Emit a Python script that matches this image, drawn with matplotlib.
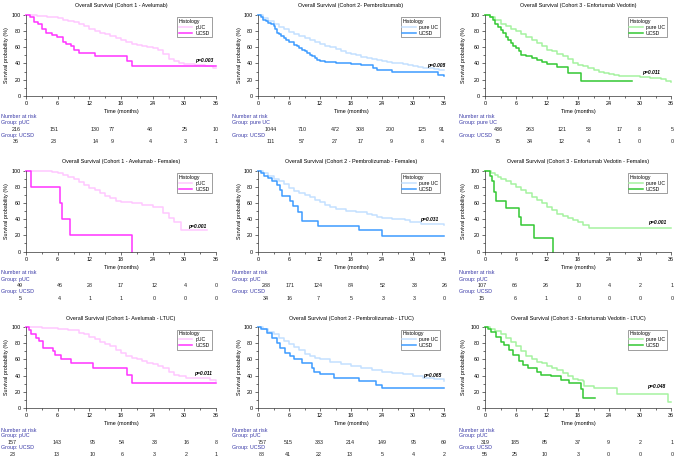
import numpy as np
import matplotlib.pyplot as plt
from matplotlib.transforms import blended_transform_factory
from matplotlib.ticker import MultipleLocator

plt.rcParams['font.family'] = ['Liberation Sans', 'DejaVu Sans']

# ---- Cohort 1 - Avelumab (all) ----
c1_puc_t = [0, 2, 4, 6, 7, 8, 9, 10, 11, 12, 13, 14, 15, 16, 17, 18, 19, 20, 21, 22, 23, 24, 25, 26, 27, 28, 29, 30, 32, 34, 35.4, 36]
c1_puc_s = [100, 99, 97.5, 95.5, 94, 92.5, 90.5, 88.5, 86, 83, 80.5, 78, 76, 73.5, 71, 68.5, 66.5, 64.5, 63, 61.5, 60, 58.5, 56, 52, 46, 43, 41, 39, 38, 37, 34, 34]
c1_ucsd_t = [0, 0.8, 1.5, 2.3, 3.0, 3.7, 5.0, 5.8, 7.0, 7.6, 8.6, 9.0, 10.0, 13.1, 19.2, 20.1, 36]
c1_ucsd_s = [100, 97, 91.5, 88.5, 83, 78, 75, 72, 67, 64.5, 61, 56, 53, 49.5, 43, 37.5, 37.5]

# ---- Cohort 2 - Pembrolizumab (all) ----
c2_puc_t = list(range(0, 37))
c2_puc_s = [100, 96, 92, 88, 85, 82, 79, 76.5, 74, 71.5, 69, 66.5, 64, 62, 60, 58, 55.5, 53, 51.5, 50, 48.5, 47, 45.5, 44, 43, 42, 41, 40, 39, 38, 37, 36, 35, 34, 33, 32.5, 32]
c2_ucsd_t = [0, 0.5, 1, 1.5, 2, 2.5, 3, 3.3, 3.7, 4, 4.5, 5, 5.5, 6, 6.5, 7, 7.5, 8, 8.5, 9, 9.5, 10, 10.5, 11, 11.5, 12, 13, 15, 18, 20, 22.3, 23, 26, 34.9, 36]
c2_ucsd_s = [100, 97, 94, 92, 90, 88, 86, 82, 78, 76, 74, 71, 69, 67, 66, 63, 61, 59, 57, 55, 53, 51, 49, 47, 44, 43, 42, 40, 39, 38, 35, 32, 30, 26, 25]

# ---- Cohort 3 - Enfortumab Vedotin (all) ----
c3_puc_t = [0, 1, 2, 3, 4, 5, 6, 7, 8, 9, 10, 11, 12, 13, 14, 15, 16, 17, 18, 19, 20, 21, 22, 23, 24, 25, 26, 28, 30, 32, 34, 35, 36]
c3_puc_s = [100, 97, 93, 89, 86, 83, 80, 76, 73, 69, 65, 61, 57, 55, 52, 49, 45, 41, 38, 37, 35, 32, 30, 28, 27, 26, 25, 24, 23, 22, 21, 19, 17]
c3_ucsd_t = [0, 1, 1.5, 2, 2.5, 3, 3.5, 4, 4.5, 5, 5.5, 6, 6.5, 7, 8, 9, 10, 11, 12, 14, 16, 18.5, 28.5]
c3_ucsd_s = [100, 97, 93, 89, 85, 81, 77, 73, 69, 65, 61, 59, 55, 51, 49, 47, 44, 42, 39, 36, 28, 18.5, 18.5]

# ---- Females ----
f1_puc_t = [0, 5, 6, 7, 8, 9, 10, 11, 12, 13, 14, 15, 16, 17, 18, 20, 22, 24, 26, 27, 28, 29.4, 34.3]
f1_puc_s = [100, 98.5, 97, 95, 92.5, 90, 86, 82, 79, 76, 72, 69, 66, 63, 61, 60, 57, 55, 48, 42, 36, 27, 27]
f1_ucsd_t = [0, 1.0, 6.4, 6.8, 8.3, 20.1]
f1_ucsd_s = [100, 80, 60, 40, 20, 0]

f2_puc_t = [0, 1, 2, 3, 4, 5, 6, 7, 8, 9, 10, 11, 12, 13, 14, 15, 17, 19, 21, 22, 23, 24, 26, 28.5, 29.5, 31.5, 36]
f2_puc_s = [100, 97, 94, 90, 87, 83, 78, 75, 72, 70, 67, 64, 61, 58, 55, 52, 50, 49, 47, 45, 43, 41, 40, 39, 36, 34, 32.5]
f2_ucsd_t = [0, 0.5, 1.2, 2, 2.8, 3.7, 4.2, 4.6, 6.2, 6.8, 7.8, 8.5, 11.7, 19.6, 24, 36]
f2_ucsd_s = [100, 97, 94, 91, 87, 82, 76, 69, 62, 56, 49, 38, 32, 26, 19.5, 19.5]

f3_puc_t = [0, 1.1, 2, 2.5, 3, 4, 5, 6, 7, 8, 9, 10, 11, 12, 13, 14, 15, 16, 17, 18, 19, 20.2, 36]
f3_puc_s = [100, 97, 95, 92, 90, 87, 84, 80, 76, 72, 68, 64, 60, 55, 51, 47, 44, 41, 39, 37, 33, 28.5, 28.5]
f3_ucsd_t = [0, 1.0, 1.3, 1.7, 2.2, 4.1, 6.6, 6.9, 9.5, 13.1]
f3_ucsd_s = [100, 93.3, 86.7, 73.3, 62.5, 53.3, 43, 33, 16.5, 0]

# ---- LTUC ----
l1_puc_t = [0, 3, 6, 8, 10, 11, 12, 13, 14, 15, 16, 17, 18, 19, 20, 21, 22, 23, 24, 25, 26, 27, 28, 29, 30.4, 34.8, 36]
l1_puc_s = [100, 99, 97.5, 96, 93, 91, 88, 85, 82, 79, 76, 72, 68, 64, 62, 60, 58, 56, 54, 52, 49, 44, 41, 39, 37, 35, 33]
l1_ucsd_t = [0, 0.5, 1.0, 1.8, 2.4, 3.2, 5.1, 5.5, 6.7, 8.6, 12.6, 19.1, 20.1, 36]
l1_ucsd_s = [100, 96, 91.5, 87, 83, 74, 70, 65, 60.5, 55, 49, 40.7, 30.5, 30.5]

l2_puc_t = [0, 1, 2, 3, 4, 5, 6, 7, 8, 9, 10, 11, 12, 14, 16, 18, 20, 22, 24, 26, 28, 30, 32, 34, 36]
l2_puc_s = [100, 97, 94, 91, 87, 83, 79, 75, 71, 67, 64, 62, 60, 57, 54, 51.5, 49, 47, 45, 43.5, 42, 40, 37.5, 35.5, 33.5]
l2_ucsd_t = [0, 0.5, 1.8, 2.7, 3.7, 4.3, 5.2, 6.2, 7, 8.5, 10.5, 10.8, 12, 14.8, 19.6, 22.8, 24, 36]
l2_ucsd_s = [100, 98, 92, 86, 80, 74, 68, 64, 60, 55, 49, 45, 42, 37, 33, 29, 25, 25]

l3_puc_t = [0, 1, 2, 3, 4, 5, 6, 7, 8, 9, 10, 11, 12, 13, 14, 15, 16, 17, 18, 19, 19.2, 21, 25.5, 35.4, 36]
l3_puc_s = [100, 98, 95, 91, 87, 82, 76, 70, 64, 60, 57, 55, 52, 50, 47, 43, 39, 36, 34, 33, 27, 25, 17, 8, 8]
l3_ucsd_t = [0, 0.6, 1.2, 2.2, 3.1, 3.7, 4.7, 5.5, 6.5, 7.4, 8.4, 10, 10.9, 12.8, 14.7, 16.3, 18.5, 18.9, 21.2]
l3_ucsd_s = [100, 98, 94, 88, 82, 78, 72, 66, 57.5, 53.5, 49, 45, 41, 39, 34.6, 30.4, 24, 12.5, 12.5]

# ---- number at risk ----
risk_times = [0, 6, 12, 18, 24, 30, 36]
c1_risk_puc = [216, 151, 130, 77, 48, 25, 10]
c1_risk_ucsd = [36, 23, 14, 9, 4, 3, 1]
c2_risk_puc = [1044, 710, 472, 308, 200, 125, 91]
c2_risk_ucsd = [111, 57, 27, 17, 9, 8, 4]
c3_risk_puc = [436, 263, 121, 53, 17, 8, 5]
c3_risk_ucsd = [75, 34, 12, 4, 1, 0, 0]
f1_risk_puc = [49, 46, 28, 17, 12, 4, 0]
f1_risk_ucsd = [5, 4, 1, 1, 0, 0, 0]
f2_risk_puc = [288, 171, 124, 84, 52, 33, 26]
f2_risk_ucsd = [34, 16, 7, 5, 3, 3, 0]
f3_risk_puc = [107, 66, 26, 10, 4, 2, 1]
f3_risk_ucsd = [15, 6, 1, 0, 0, 0, 0]
l1_risk_puc = [157, 143, 95, 54, 33, 16, 8]
l1_risk_ucsd = [23, 13, 10, 6, 3, 2, 1]
l2_risk_puc = [757, 515, 333, 214, 149, 95, 69]
l2_risk_ucsd = [88, 41, 22, 13, 5, 4, 2]
l3_risk_puc = [319, 185, 85, 37, 9, 2, 1]
l3_risk_ucsd = [55, 25, 10, 3, 0, 0, 0]

titles = [
    ["Overall Survival (Cohort 1 - Avelumab)", "Overall Survival (Cohort 2- Pembrolizumab)", "Overall Survival (Cohort 3 - Enfortumab Vedotin)"],
    ["Overall Survival (Cohort 1 - Avelumab - Females)", "Overall Survival (Cohort 2 - Pembrolizumab - Females)", "Overall Survival (Cohort 3 - Enfortumab Vedotin - Females)"],
    ["Overall Survival (Cohort 1- Avelumab - LTUC)", "Overall Survival (Cohort 2 - Pembrolizumab - LTUC)", "Overall Survival (Cohort 3 - Enfortumab Vedotin - LTUC)"],
]
pvalues = [["p=0.003", "p=0.008", "p=0.011"],
           ["p=0.001", "p=0.031", "p=0.001"],
           ["p=0.011", "p=0.065", "p=0.048"]]
group_names = [["pUC", "pure UC", "pure UC"],
               ["pUC", "pUC", "pUC"],
               ["pUC", "pUC", "pUC"]]
legend_names = ["pUC", "pure UC", "pure UC"]

# ---- layout (pixels) ----
W, H = 677, 457
col_x = [(26, 216), (258, 444), (485, 671)]          # x of 0 and 36 months
row_y = [(14.7, 96), (170.7, 251.5), (327, 408)]      # y of 100 and 0 %
text_x = [1, 232, 459]
ylab_x = [7, 240, 463]
row_txt = [  # ticklabels, time, number at risk, group1, nums1, group2, nums2, title
    (103, 112, 117, 123, 129.5, 135.5, 141.5, 6),
    (259.5, 267, 273, 279, 285.5, 291.5, 298, 161.5),
    (416.5, 424, 430, 436, 442, 448, 454.3, 318.5),
]
risk_x = [
    [[-1.9, 5.3, 13.1, 16.3, 23.5, 30.1, 36], [2.5, 8.5, 14.9, 19.9, 25.7, 31.7, 35.6], [2.5, 8.7, 14.9, 20.1, 26, 29.8, 36.2]],
    [[-1.1, 6.4, 12.1, 18, 24.3, 30.2, 36], [1.6, 6.2, 11.6, 18, 24.2, 30.3, 36.1], [-0.6, 5.8, 11.8, 18.2, 24, 30.1, 36.2]],
    [[-2.6, 5.8, 12.6, 18.2, 24.4, 30.4, 36], [0.8, 5.8, 11.8, 17.8, 24, 30.1, 36], [0, 5.8, 11.6, 18, 23.8, 30, 36.2]],
]
p_pos = [[(33.8, 44), (34.5, 38), (32.2, 29)],
         [(32.5, 31), (33.2, 40), (33.4, 36)],
         [(33.5, 42), (33.8, 40), (33.2, 26)]]
colors = [("#FFC8FF", "#FF33FF"), ("#C4E0FF", "#3D9BFF"), ("#A6F2A0", "#33C833")]
risk_blue = "#3A3AA8"
fs = 3.9

curves = [
    [(c1_puc_t, c1_puc_s, c1_ucsd_t, c1_ucsd_s, c1_risk_puc, c1_risk_ucsd),
     (c2_puc_t, c2_puc_s, c2_ucsd_t, c2_ucsd_s, c2_risk_puc, c2_risk_ucsd),
     (c3_puc_t, c3_puc_s, c3_ucsd_t, c3_ucsd_s, c3_risk_puc, c3_risk_ucsd)],
    [(f1_puc_t, f1_puc_s, f1_ucsd_t, f1_ucsd_s, f1_risk_puc, f1_risk_ucsd),
     (f2_puc_t, f2_puc_s, f2_ucsd_t, f2_ucsd_s, f2_risk_puc, f2_risk_ucsd),
     (f3_puc_t, f3_puc_s, f3_ucsd_t, f3_ucsd_s, f3_risk_puc, f3_risk_ucsd)],
    [(l1_puc_t, l1_puc_s, l1_ucsd_t, l1_ucsd_s, l1_risk_puc, l1_risk_ucsd),
     (l2_puc_t, l2_puc_s, l2_ucsd_t, l2_ucsd_s, l2_risk_puc, l2_risk_ucsd),
     (l3_puc_t, l3_puc_s, l3_ucsd_t, l3_ucsd_s, l3_risk_puc, l3_risk_ucsd)],
]

fig = plt.figure(figsize=(W / 100, H / 100), dpi=100)


def fy(y):
    return 1 - y / H


for r in range(3):
    for c in range(3):
        x0, x1 = col_x[c]
        yt, yb = row_y[r]
        ax = fig.add_axes([x0 / W, fy(yb), (x1 - x0) / W, (yb - yt) / H])
        pt, ps, ut, us, rp, ru = curves[r][c]
        light, dark = colors[c]
        ax.plot(pt, ps, drawstyle='steps-post', color=light, lw=1.1, label=legend_names[c], clip_on=False)
        ax.plot(ut, us, drawstyle='steps-post', color=dark, lw=1.1, label="UCSD", clip_on=False)
        ax.set_xlim(0, 36)
        ax.set_ylim(0, 100)
        ax.set_xticks(risk_times)
        ax.xaxis.set_minor_locator(MultipleLocator(3))
        ax.set_yticks([0, 20, 40, 60, 80, 100])
        ax.yaxis.set_minor_locator(MultipleLocator(10))
        for s in ['top', 'right']:
            ax.spines[s].set_visible(False)
        for s in ['left', 'bottom']:
            ax.spines[s].set_linewidth(0.5)
            ax.spines[s].set_color('#333333')
        ax.tick_params(which='both', labelsize=fs, width=0.5, color='#333333', pad=1.5)
        ax.tick_params(which='major', length=2.2)
        ax.tick_params(which='minor', length=1.2)
        ax.set_facecolor('none')

        fig.text((x0 + x1) / 2 / W, fy(row_txt[r][7]), titles[r][c], ha='center', va='center', fontsize=fs)
        fig.text((x0 + x1) / 2 / W, fy(row_txt[r][1]), "Time (months)", ha='center', va='center', fontsize=fs)
        fig.text(ylab_x[c] / W, fy((yt + yb) / 2), "Survival probability (%)", rotation=90,
                 ha='center', va='center', fontsize=fs)

        px, py = p_pos[r][c]
        ax.text(px, py, pvalues[r][c], ha='center', va='center', fontsize=fs - 0.3,
                fontweight='bold', fontstyle='italic')

        leg = ax.legend(title="Histology", loc='upper right', bbox_to_anchor=(0.99, 1.0),
                        fontsize=fs - 0.2, title_fontsize=fs - 0.2, frameon=True, fancybox=False,
                        edgecolor='#555555', handlelength=2.6, handletextpad=0.6,
                        borderpad=0.35, labelspacing=0.15, alignment='left')
        leg.get_frame().set_linewidth(0.5)

        # number at risk table
        fig.text(text_x[c] / W, fy(row_txt[r][2]), "Number at risk", color=risk_blue, fontsize=fs, va='center')
        fig.text(text_x[c] / W, fy(row_txt[r][3]), "Group: " + group_names[r][c], color=risk_blue, fontsize=fs, va='center')
        fig.text(text_x[c] / W, fy(row_txt[r][5]), "Group: UCSD", color=risk_blue, fontsize=fs, va='center')
        tr = blended_transform_factory(ax.transData, fig.transFigure)
        for xv, n1, n2 in zip(risk_x[r][c], rp, ru):
            ax.text(xv, fy(row_txt[r][4]), str(n1), transform=tr, ha='center', va='center',
                    fontsize=fs, color='#222222', clip_on=False)
            ax.text(xv, fy(row_txt[r][6]), str(n2), transform=tr, ha='center', va='center',
                    fontsize=fs, color='#222222', clip_on=False)

fig.savefig("out.png", dpi=100)
